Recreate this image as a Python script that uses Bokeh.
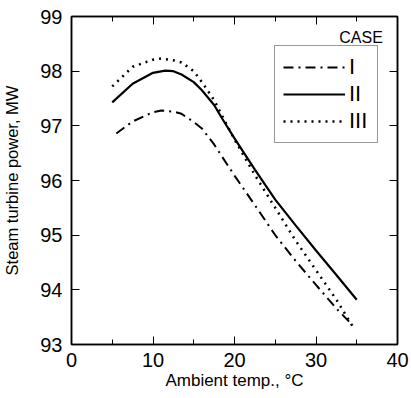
from bokeh.plotting import figure
from bokeh.models import (LinearAxis, SingleIntervalTicker, Range1d, Legend, LegendItem, Label,
                          CustomLabelingPolicy)
from bokeh.embed import file_html
from bokeh.resources import INLINE

# Data
x_case1 = [5.5, 7.5, 10, 11, 12.5, 13.5, 15, 16, 17.5, 18.5, 20, 22.5, 25, 27.5, 30, 32.5, 34.5]
y_case1 = [96.86, 97.08, 97.25, 97.28, 97.26, 97.22, 97.07, 96.95, 96.66, 96.43, 96.09, 95.55, 95.0, 94.53, 94.09, 93.66, 93.35]

x_case2 = [5, 7.5, 10, 11.5, 12.5, 13.5, 15, 16, 17.5, 18.5, 20, 22.5, 25, 27.5, 30, 32.5, 35]
y_case2 = [97.43, 97.77, 97.97, 98.01, 98.0, 97.94, 97.8, 97.65, 97.38, 97.13, 96.77, 96.2, 95.65, 95.18, 94.72, 94.27, 93.82]

x_case3 = [5, 7.5, 10, 11, 12.5, 13.5, 15, 16, 17.5, 18.5, 20, 22.5, 25, 27.5, 30, 32.5, 34.5]
y_case3 = [97.72, 98.08, 98.21, 98.23, 98.2, 98.16, 98.0, 97.8, 97.47, 97.18, 96.75, 96.1, 95.5, 94.9, 94.36, 93.82, 93.33]

case_labels = ["I", "II", "III"]
x_label = "Ambient temp., °C"
y_label = "Steam turbine power, MW"
legend_title = "CASE"

FONT = "Liberation Sans"

p = figure(frame_width=326, frame_height=328, output_backend="svg", toolbar_location=None,
           x_range=Range1d(0, 40), y_range=Range1d(93, 99),
           x_axis_type=None, y_axis_type=None,
           min_border_left=71, min_border_right=10, min_border_top=16, min_border_bottom=54)
p.grid.visible = False
p.background_fill_color = "white"
p.outline_line_color = "black"
p.outline_line_width = 1.5

xt = SingleIntervalTicker(interval=10, num_minor_ticks=2)
yt = SingleIntervalTicker(interval=1, num_minor_ticks=0)

no_labels = CustomLabelingPolicy(code="""
    for (const i of indices)
        indices.unset(i)
    return indices
""")

def style(ax, labels=True):
    ax.axis_line_color = "black"
    ax.axis_line_width = 1.5
    ax.major_tick_in = 8
    ax.major_tick_out = 0
    ax.minor_tick_in = 5
    ax.minor_tick_out = 0
    ax.major_tick_line_color = "black"
    ax.minor_tick_line_color = "black"
    ax.major_tick_line_width = 1
    ax.minor_tick_line_width = 1
    if labels:
        ax.major_label_text_font = FONT
        ax.major_label_text_font_size = "20px"
        ax.major_label_text_color = "black"
        ax.major_label_standoff = 8
        ax.axis_label_text_font = FONT
        ax.axis_label_text_font_style = "normal"
        ax.axis_label_text_color = "black"
    else:
        ax.major_label_policy = no_labels
        ax.major_label_standoff = 0

xb = LinearAxis(ticker=xt, axis_label=x_label)
style(xb)
xb.axis_label_text_font_size = "17px"
xb.axis_label_standoff = 1
p.add_layout(xb, "below")

yl = LinearAxis(ticker=yt, axis_label=y_label)
style(yl)
yl.major_label_standoff = 9
yl.axis_label_text_font_size = "16.5px"
yl.axis_label_standoff = 16
p.add_layout(yl, "left")

xa = LinearAxis(ticker=xt)
style(xa, labels=False)
p.add_layout(xa, "above")

yr = LinearAxis(ticker=yt)
style(yr, labels=False)
p.add_layout(yr, "right")

r1 = p.line(x_case1, y_case1, line_color="black", line_width=2, line_dash="10 5 2 5")
r2 = p.line(x_case2, y_case2, line_color="black", line_width=2.2)
r3 = p.line(x_case3, y_case3, line_color="black", line_width=2.5, line_dash="2 5")

legend = Legend(items=[LegendItem(label=case_labels[0], renderers=[r1]),
                       LegendItem(label=case_labels[1], renderers=[r2]),
                       LegendItem(label=case_labels[2], renderers=[r3])],
                location=(203, 201))
legend.glyph_width = 62
legend.glyph_height = 24
legend.label_height = 24
legend.label_standoff = 4
legend.spacing = 1
legend.padding = 8
legend.margin = 0
legend.label_text_font = FONT
legend.label_text_font_size = "22px"
legend.label_text_color = "black"
legend.border_line_color = "#333333"
legend.border_line_width = 1
legend.background_fill_alpha = 1
p.add_layout(legend, "center")

p.add_layout(Label(x=38.2, y=98.78, text=legend_title, text_align="right",
                   text_baseline="top", text_font=FONT, text_font_size="16px",
                   text_color="black", level="overlay"))

open("out.html", "w").write(file_html(p, INLINE))
